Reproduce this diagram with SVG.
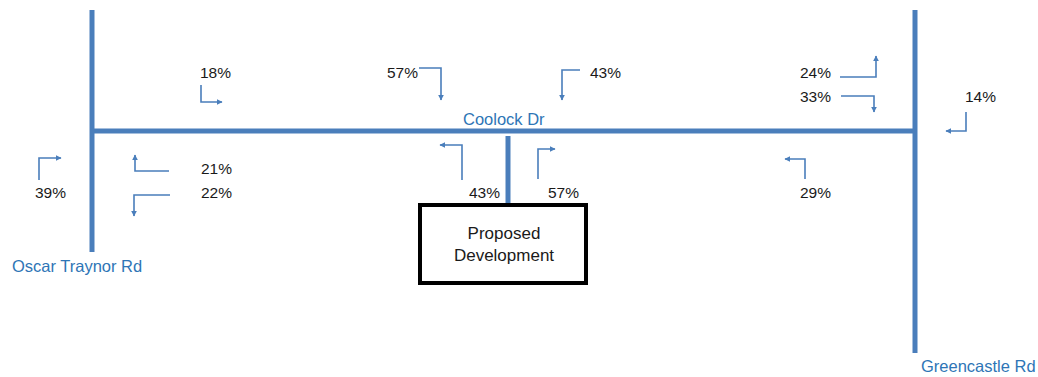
<svg xmlns="http://www.w3.org/2000/svg" width="1038" height="377" viewBox="0 0 1038 377">
<defs>
<marker id="ah" viewBox="0 0 10 10" refX="9" refY="5" markerWidth="6" markerHeight="6" markerUnits="userSpaceOnUse" orient="auto">
<path d="M0,0 L10,5 L0,10 z" fill="#4A7EBB"/>
</marker>
<style>
.road{stroke:#4A7EBB;stroke-width:5;fill:none}
.arr{stroke:#4A7EBB;stroke-width:1.6;fill:none;marker-end:url(#ah)}
.pct{font-family:"Liberation Sans",Arial,sans-serif;font-size:15.5px;fill:#1a1a1a}
.rd{font-family:"Liberation Sans",Arial,sans-serif;font-size:16.5px;fill:#2E75B6}
.box{fill:#fff;stroke:#000;stroke-width:4}
.bt{font-family:"Liberation Sans",Arial,sans-serif;font-size:17px;fill:#1a1a1a;text-anchor:middle}
</style>
</defs>
<g id="roads">
<line class="road" x1="92" y1="10" x2="92" y2="252"/>
<line class="road" x1="915" y1="10" x2="915" y2="353"/>
<line class="road" x1="92" y1="131" x2="917" y2="131"/>
<line class="road" x1="508" y1="136" x2="508" y2="204"/>
</g>
<g id="road-labels">
<text class="rd" x="12" y="272">Oscar Traynor Rd</text>
<text class="rd" x="463" y="125">Coolock Dr</text>
<text class="rd" x="921" y="372">Greencastle Rd</text>
</g>
<g id="proposed-development">
<rect class="box" x="420" y="205" width="166" height="78"/>
<text class="bt" x="504" y="239">Proposed</text>
<text class="bt" x="504" y="261">Development</text>
</g>
<g id="connectors">
<path class="arr" d="M39,180 V158 H61"/>
<path class="arr" d="M169,171 H135 V155"/>
<path class="arr" d="M170,195 H134 V216"/>
<path class="arr" d="M201,85 V102 H222"/>
<path class="arr" d="M419,68 H441 V100"/>
<path class="arr" d="M580,70 H562 V100"/>
<path class="arr" d="M462,180 V145 H440"/>
<path class="arr" d="M538,179 V149 H555"/>
<path class="arr" d="M840,77 H876 V56"/>
<path class="arr" d="M841,96 H874 V112"/>
<path class="arr" d="M966,112 V131 H946"/>
<path class="arr" d="M805,179 V159 H785"/>
</g>
<g id="labels">
<text class="pct" x="35" y="198">39%</text>
<text class="pct" x="201" y="174">21%</text>
<text class="pct" x="201" y="198">22%</text>
<text class="pct" x="200" y="78">18%</text>
<text class="pct" x="387" y="78">57%</text>
<text class="pct" x="590" y="78">43%</text>
<text class="pct" x="469" y="198">43%</text>
<text class="pct" x="548" y="198">57%</text>
<text class="pct" x="800" y="78">24%</text>
<text class="pct" x="800" y="102">33%</text>
<text class="pct" x="965" y="102">14%</text>
<text class="pct" x="800" y="198">29%</text>
</g>
</svg>
